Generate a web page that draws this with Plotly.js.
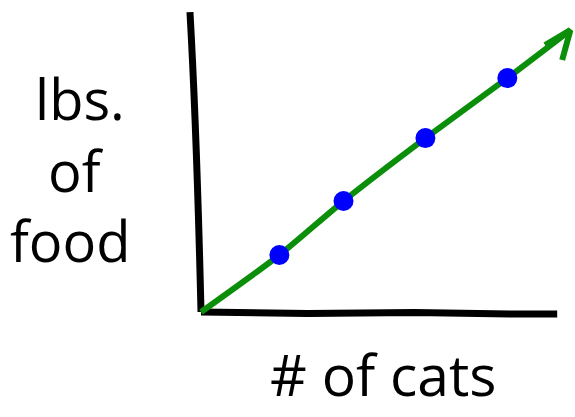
<!DOCTYPE html>
<html><head><meta charset="utf-8">
<script src="https://cdn.plot.ly/plotly-3.0.1.min.js"></script>
<style>html,body{margin:0;padding:0;background:#fff}#c{width:575px;height:417px}</style>
</head><body><div id="c"></div>
<script>
// Hand-drawn "xkcd" style chart: lbs. of food vs # of cats
var pointsX = [2.2, 4.0, 6.3, 8.6];
var pointsY = [1.9, 3.7, 5.8, 7.8];
var lineX = [0, 2.2, 4.0, 6.3, 8.6, 10.37];
var lineY = [0, 1.9, 3.7, 5.8, 7.8, 9.4];
var arrowX = [9.66, 10.37, 10.14];
var arrowY = [8.9, 9.4, 8.4];
var yAxisPath = 'M -0.31,10 Q -0.12,6 0,0';
var xAxisPath = 'M 0,0 L 3,-0.05 L 6,-0.02 L 9,-0.07 L 10,-0.07';
var yLabelLines = ['lbs.', 'of', 'food'];
var yLabelX = [-0.253, -0.263, -0.278];
var yLabelY = [0.705, 0.476, 0.256];
var xLabel = '# of cats';

var font = 'Open Sans, DejaVu Sans, sans-serif';
var annotations = yLabelLines.map(function (t, i) {
  return {text: t, x: yLabelX[i], y: yLabelY[i], xref: 'paper', yref: 'paper', showarrow: false,
          xanchor: 'center', yanchor: 'middle',
          font: {family: font, size: 56, color: '#000'}};
});
annotations.push({text: xLabel, x: 0.514, y: -0.167, xref: 'paper', yref: 'paper', showarrow: false,
                  xanchor: 'center', yanchor: 'middle',
                  font: {family: font, size: 57, color: '#000'}});

var traces = [
  {x: lineX, y: lineY, mode: 'lines', line: {color: '#0b8f0b', width: 6, shape: 'spline', smoothing: 0.6}, hoverinfo: 'skip', cliponaxis: false},
  {x: arrowX, y: arrowY, mode: 'lines', line: {color: '#0b8f0b', width: 6}, hoverinfo: 'skip', cliponaxis: false},
  {x: pointsX, y: pointsY, mode: 'markers', marker: {color: '#0000ff', size: 20}, cliponaxis: false}
];

var layout = {
  width: 575, height: 417,
  margin: {l: 180, r: 0, t: 4, b: 96},
  paper_bgcolor: '#fff', plot_bgcolor: '#fff',
  showlegend: false,
  xaxis: {range: [-0.59, 10.5], visible: false, fixedrange: true},
  yaxis: {range: [-0.3, 10.27], visible: false, fixedrange: true},
  shapes: [
    {type: 'path', path: yAxisPath, xref: 'x', yref: 'y', line: {color: '#000', width: 7}, layer: 'below'},
    {type: 'path', path: xAxisPath, xref: 'x', yref: 'y', line: {color: '#000', width: 7}, layer: 'below'}
  ],
  annotations: annotations
};
Plotly.newPlot('c', traces, layout, {staticPlot: true, displayModeBar: false});
</script></body></html>
